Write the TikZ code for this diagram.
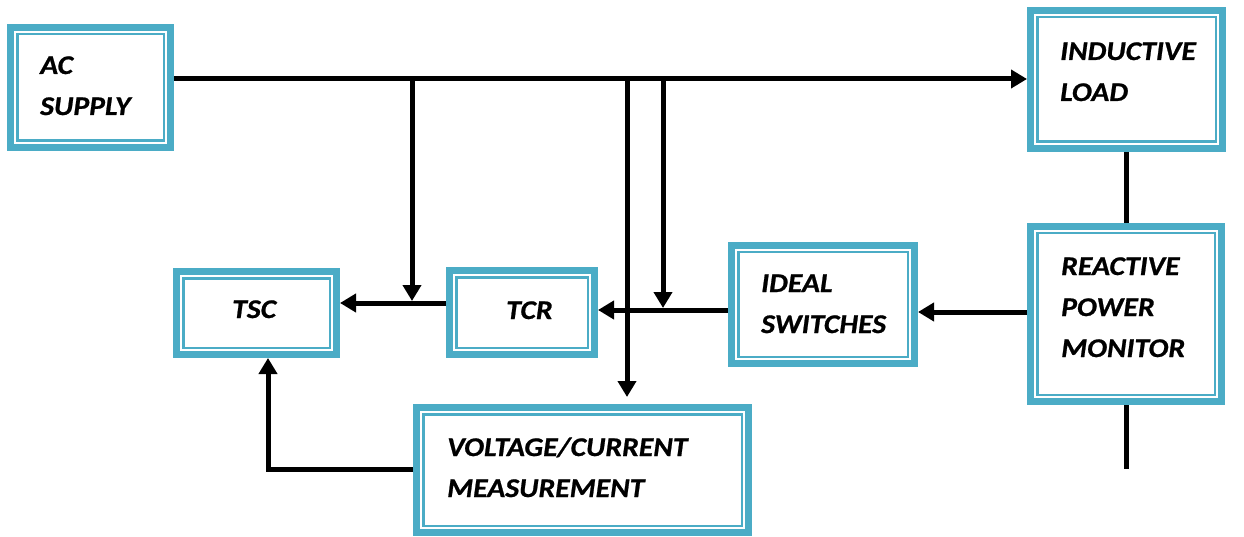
\documentclass[tikz,border=0pt]{standalone}
\usepackage{fontspec}
\setmainfont{Carlito}
\newfontfamily\lblfont[FakeStretch=1.1, FakeBold=0.8]{Carlito}
\usetikzlibrary{arrows.meta}
\definecolor{boxteal}{HTML}{4BACC6}
\tikzset{
  tbox/.style={draw=boxteal, line width=7pt, fill=white, inner sep=0pt,
    path picture={\draw[boxteal, line width=2.5pt]
      ([shift={(6.75pt,-6.75pt)}]path picture bounding box.north west) rectangle
      ([shift={(-6.75pt,6.75pt)}]path picture bounding box.south east);}},
  lbl/.style={font=\lblfont\fontsize{27}{41}\selectfont\bfseries\itshape, align=left, inner sep=0pt, anchor=base west},
  wire/.style={line width=5pt},
  arr/.style={wire, -{Triangle[length=16pt,width=18pt]}}
}
\begin{document}
\begin{tikzpicture}[x=1pt,y=-1pt]
\useasboundingbox (0,0) rectangle (1244,537);
% boxes
\node[tbox, minimum width=160pt, minimum height=120pt] (ac)    at (90.5,87.5) {};
\node[tbox, minimum width=192pt, minimum height=138pt] (ind)   at (1126.5,79.5) {};
\node[tbox, minimum width=191pt, minimum height=175pt] (rpm)   at (1126,314) {};
\node[tbox, minimum width=183pt, minimum height=118pt] (ideal) at (823,304.5) {};
\node[tbox, minimum width=145pt, minimum height=84pt]  (tcr)   at (522,312.5) {};
\node[tbox, minimum width=160pt, minimum height=83pt]  (tsc)   at (256.5,313) {};
\node[tbox, minimum width=332pt, minimum height=125pt] (vc)    at (582.5,470) {};
% labels (anchor = baseline of the last line)
\node[lbl] (tac)    at (40,115)   {AC\\SUPPLY};
\node[lbl] (tind)   at (1060,101) {INDUCTIVE\\LOAD};
\node[lbl] (trpm)   at (1061,357) {REACTIVE\\POWER\\MONITOR};
\node[lbl] (tideal) at (761,333)  {IDEAL\\SWITCHES};
\node[lbl] (ttsc)   at (232,318)  {TSC};
\node[lbl] (ttcr)   at (506,319)  {TCR};
\node[lbl] (tvc)    at (447,497)  {VOLTAGE/CURRENT\\MEASUREMENT};
% helper coordinates
\coordinate (busy) at (0,79);
\coordinate (j1) at (412,79);
\coordinate (j2) at (627,79);
\coordinate (j3) at (663,79);
\coordinate (e1) at (412,301);
\coordinate (e2) at (627,397);
\coordinate (e3) at (663,308);
\coordinate (y303) at (0,303);
\coordinate (y310) at (0,310);
\coordinate (y312) at (0,312);
\coordinate (y469) at (0,469);
\coordinate (x268) at (268,0);
% connectors
\draw[arr] (ac.east |- busy) -- (ind.west |- busy);
\draw[arr] (j1) -- (e1);
\draw[arr] (j2) -- (e2);
\draw[arr] (j3) -- (e3);
\draw[arr] (tcr.west |- y303) -- (tsc.east |- y303);
\draw[arr] (ideal.west |- y310) -- (tcr.east |- y310);
\draw[arr] (rpm.west |- y312) -- (ideal.east |- y312);
\draw[wire] (ind.south) -- (ind.south |- rpm.north);
\draw[wire] (rpm.south) -- (rpm.south |- y469);
\draw[arr] (vc.west |- y469) -| (tsc.south -| x268);
\end{tikzpicture}
\end{document}
